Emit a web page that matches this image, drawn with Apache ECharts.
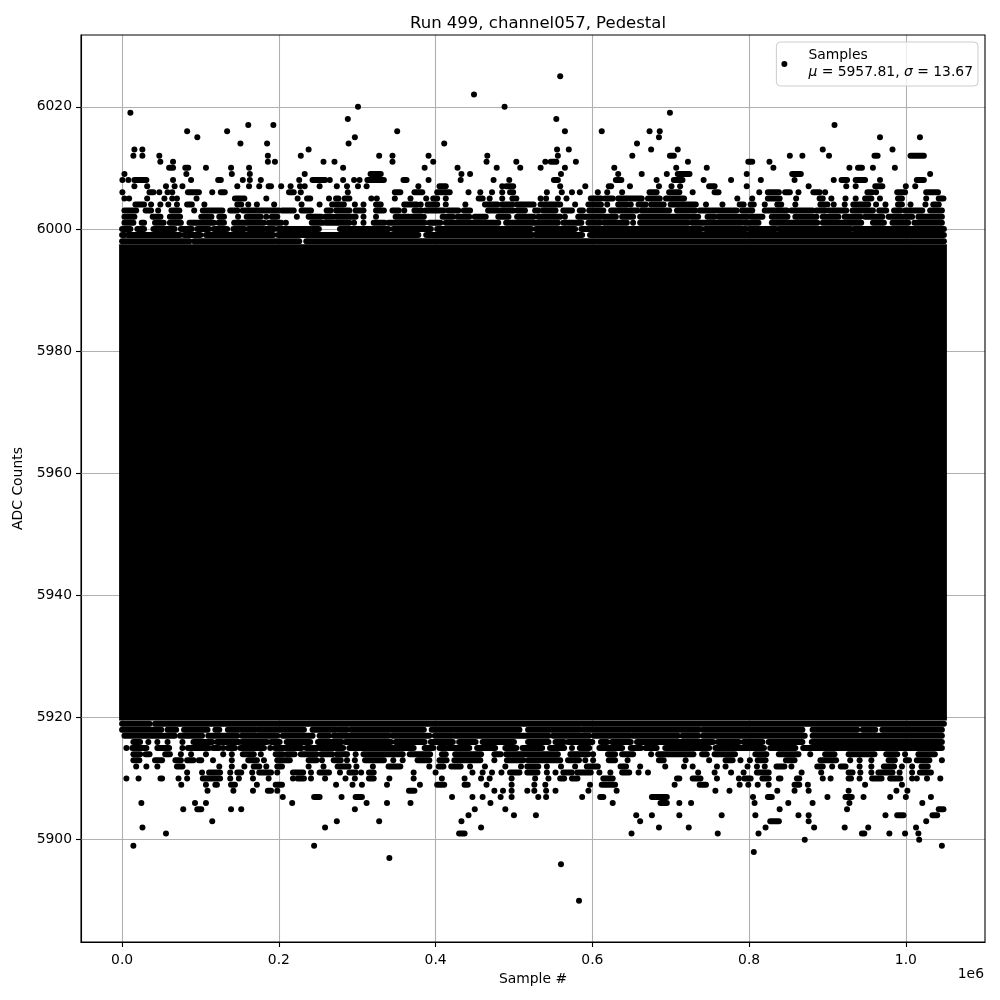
<!DOCTYPE html>
<html>
<head>
<meta charset="utf-8">
<script src="https://cdn.jsdelivr.net/npm/echarts@6/dist/echarts.min.js"></script>
<style>html,body{margin:0;padding:0;background:#fff;}#chart{width:1000px;height:1000px;}</style>
</head>
<body>
<div id="chart"></div>
<script>
// ---- values (x in units of 1e6 samples) ----
const titleText = 'Run 499, channel057, Pedestal';
const xLabel = 'Sample #';
const yLabel = 'ADC Counts';
const seriesName = 'Samples';
const meanValue = 5957.81;
const sigmaValue = 13.67;
const xTicks = [0.0, 0.2, 0.4, 0.6, 0.8, 1.0];
const yTicks = [5900, 5920, 5940, 5960, 5980, 6000, 6020];
const xLimits = [-0.0524288, 1.1010048];
const yLimits = [5883.25, 6031.75];

// fully saturated block of samples: [xStart, xEnd, lowADC, highADC]
const denseBlock = [[0, 1.048576, 5920, 5997]];

// fringe rows: [ADC value, items...]; a number is one sample, a pair is a run of touching samples
const upperRows = [
  [5998, [0,0.086],[0.092,0.226],[0.235,1.048576]],
  [5999, [0,0.003],[0.007,0.074],[0.079,0.100],[0.107,0.193],[0.199,0.378],[0.388,0.523],[0.527,0.587],[0.597,1.048576]],
  [6000, [0,0.0106],[0.0195,0.028],[0.040,0.067],[0.075,0.089],[0.096,0.111],[0.117,0.134],[0.142,0.156],[0.161,0.181],[0.184,0.194],[0.199,0.240],[0.243,0.251],[0.278,0.340],[0.346,0.394],[0.402,0.522],[0.528,0.578],[0.586,0.739],[0.744,0.796],[0.800,0.834],[0.838,0.930],[0.934,1.048576]],
  [6001, [0.003,0.0144],[0.025,0.028],[0.042,0.053],[0.061,0.075],[0.086,0.117],[0.123,0.130],[0.143,0.181],[0.187,0.203],0.209,[0.242,0.256],[0.260,0.290],0.296,0.308,[0.321,0.335],[0.340,0.386],[0.392,0.406],[0.413,0.480],[0.490,0.556],[0.563,0.586],[0.595,0.610],[0.615,0.644],0.652,[0.661,0.722],[0.727,0.790],[0.794,0.812],[0.829,0.887],[0.894,0.943],[0.958,0.972],[0.983,1.003],[1.011,1.046]],
  [6002, [0.003,0.0157],[0.039,0.049],[0.061,0.074],[0.101,0.114],[0.124,0.130],0.148,[0.159,0.177],0.184,[0.191,0.198],0.223,[0.238,0.254],[0.259,0.269],[0.273,0.298],0.308,0.324,[0.349,0.366],[0.369,0.385],[0.409,0.422],[0.428,0.443],[0.450,0.464],[0.480,0.493],[0.504,0.525],[0.531,0.559],0.565,[0.582,0.630],[0.638,0.652],[0.661,0.724],[0.727,0.735],[0.747,0.756],[0.761,0.798],[0.803,0.817],[0.829,0.849],[0.859,0.886],[0.894,0.914],[0.922,0.942],[0.948,0.970],[0.978,1.008],[1.016,1.046]],
  [6003, [0.003,0.018],[0.030,0.037],0.046,[0.063,0.073],0.092,[0.103,0.128],[0.138,0.147],[0.154,0.200],[0.204,0.219],[0.229,0.241],[0.261,0.266],[0.273,0.290],[0.298,0.308],[0.324,0.334],[0.345,0.353],0.360,[0.373,0.382],[0.387,0.410],[0.416,0.429],[0.436,0.444],[0.467,0.499],[0.504,0.514],[0.527,0.531],[0.537,0.553],[0.563,0.574],[0.584,0.588],[0.596,0.614],[0.624,0.657],[0.663,0.698],[0.708,0.731],[0.737,0.784],[0.791,0.804],[0.820,0.848],[0.854,0.881],[0.886,0.897],[0.902,0.924],[0.932,0.958],[0.966,0.975],[0.985,0.993],[0.999,1.021],[1.031,1.046]],
  [6004, [0.017,0.028],0.037,0.0488,0.059,0.070,[0.083,0.089],0.105,[0.147,0.152],0.161,0.172,0.194,0.229,0.252,[0.268,0.283],0.297,0.308,[0.324,0.330],[0.360,0.376],0.381,[0.390,0.402],0.413,0.438,[0.463,0.479],[0.485,0.498],[0.504,0.525],[0.534,0.559],0.578,[0.595,0.611],0.619,[0.633,0.644],0.649,[0.659,0.668],[0.675,0.691],[0.700,0.732],0.745,0.766,[0.788,0.793],[0.802,0.806],0.820,[0.836,0.841],0.859,[0.891,0.900],0.908,0.922,[0.933,0.952],0.962,0.974,[0.990,0.995],1.006,1.025,[1.035,1.042]],
  [6005, 0.003,0.009,0.032,0.054,0.064,0.070,0.095,[0.144,0.156],0.184,0.224,[0.236,0.240],0.264,[0.273,0.276],[0.284,0.290],0.318,0.325,0.348,0.368,0.388,[0.397,0.402],0.413,[0.455,0.460],0.469,0.485,[0.498,0.503],0.534,0.541,0.556,0.567,[0.598,0.611],[0.616,0.626],[0.633,0.663],[0.671,0.686],[0.694,0.717],0.785,0.804,[0.824,0.839],0.860,[0.890,0.894],0.905,0.923,0.936,[0.948,0.956],0.967,[0.990,0.995],1.026,[1.042,1.048]],
  [6006, 0.0004,[0.035,0.040],0.0475,0.058,0.064,[0.084,0.098],0.115,[0.126,0.131],[0.213,0.219],0.228,0.288,[0.348,0.355],[0.373,0.383],[0.402,0.418],0.442,0.457,0.472,0.485,[0.495,0.499],0.542,0.561,0.574,0.584,0.607,0.619,0.638,[0.673,0.682],[0.698,0.711],0.728,[0.756,0.761],0.813,[0.824,0.838],[0.846,0.852],0.863,[0.882,0.890],0.897,[0.951,0.957],0.962,[0.989,0.999],[1.026,1.041]],
  [6007, 0.0157,0.032,0.056,0.067,0.077,0.147,0.162,0.175,[0.187,0.190],0.203,0.215,0.227,0.233,0.252,0.274,0.287,0.301,0.312,0.378,[0.405,0.413],0.485,[0.490,0.499],0.559,0.591,[0.621,0.624],0.648,0.685,0.701,0.712,[0.749,0.756],0.797,0.876,0.924,0.936,[0.961,0.970],1.000,1.012],
  [6008, 0.0004,0.008,[0.0157,0.031],0.065,0.088,[0.1226,0.126],0.154,0.163,0.177,0.226,[0.243,0.259],0.265,0.282,0.296,0.303,[0.313,0.334],[0.359,0.363],0.391,0.432,0.474,0.494,[0.551,0.556],[0.630,0.637],0.682,[0.704,0.715],0.742,0.777,0.815,0.858,0.908,[0.918,0.925],[0.936,0.948],0.967,[1.014,1.023]],
  [6009, 0.003,0.082,0.140,0.163,0.233,[0.317,0.330],0.433,0.444,0.560,0.633,0.663,0.695,[0.709,0.724],0.797,[0.855,0.866],1.031],
  [6010, [0.060,0.065],[0.0806,0.0844],0.107,0.139,0.162,0.282,0.386,0.428,0.478,0.508,0.534,0.565,0.628,0.707,0.746,0.831,0.928,[0.939,0.944],0.958,0.986],
  [6011, 0.0488,0.065,0.186,0.195,0.257,0.271,0.345,0.397,0.465,0.503,0.540,[0.547,0.554],0.579,0.722,[0.799,0.804],0.826],
  [6012, 0.0144,0.0259,0.0475,0.186,0.228,0.328,0.345,0.391,0.466,0.556,0.651,[0.699,0.704],0.852,0.868,0.902,[0.960,0.964],[1.006,1.023]],
  [6013, 0.0157,0.0259,0.238,0.555,0.570,0.675,0.709,0.894,0.983],
  [6014, 0.151,0.185,0.289,0.411,0.657],
  [6015, 0.096,0.297,0.685,0.967,1.018],
  [6016, 0.083,0.134,0.351,0.565,0.612,0.673,0.686],
  [6017, 0.161,0.193,0.909],
  [6018, 0.288,0.554],
  [6019, 0.0106,0.699],
  [6020, 0.301,0.488],
  [6022, 0.449],
  [6025, 0.559]
];

const lowerRows = [
  [5919, [0,0.035],[0.042,1.048576]],
  [5918, [0,0.050],[0.058,0.069],[0.079,0.109],[0.119,0.124],[0.135,0.170],[0.174,0.232],[0.243,0.273],[0.277,0.287],[0.292,0.385],[0.395,0.507],[0.518,0.584],[0.588,0.736],[0.741,0.868],[0.881,0.938],[0.945,0.961],[0.970,1.046]],
  [5917, [0.003,0.067],[0.074,0.102],[0.110,0.147],[0.153,0.198],[0.205,0.243],[0.252,0.264],[0.270,0.340],[0.345,0.392],[0.399,0.421],[0.425,0.544],[0.550,0.596],[0.602,0.648],[0.652,0.709],[0.715,0.735],[0.741,0.871],[0.881,1.046]],
  [5916, [0.0144,0.023],0.0335,0.045,0.058,0.077,[0.091,0.115],[0.121,0.149],[0.153,0.185],[0.190,0.201],[0.210,0.240],[0.250,0.280],[0.285,0.343],[0.349,0.386],[0.394,0.422],[0.430,0.451],[0.460,0.500],[0.518,0.544],[0.553,0.564],[0.569,0.600],[0.611,0.619],[0.625,0.649],[0.657,0.754],[0.760,0.787],[0.793,0.817],[0.825,0.868],[0.880,1.046]],
  [5915, 0.0055,[0.013,0.031],[0.045,0.060],0.077,[0.084,0.111],[0.116,0.124],0.129,[0.135,0.144],[0.151,0.181],0.189,[0.195,0.229],[0.235,0.282],[0.290,0.372],[0.386,0.397],[0.405,0.413],[0.416,0.443],[0.453,0.476],[0.489,0.503],[0.511,0.536],[0.546,0.564],0.574,[0.584,0.596],[0.609,0.638],[0.649,0.662],[0.668,0.682],[0.693,0.749],[0.757,0.819],[0.827,0.859],[0.869,1.046]],
  [5914, [0.0144,0.023],[0.030,0.035],[0.055,0.061],0.075,0.088,0.107,0.129,0.140,[0.154,0.168],0.177,[0.196,0.205],[0.210,0.220],[0.228,0.248],[0.254,0.268],[0.274,0.287],0.298,[0.308,0.358],[0.367,0.393],[0.408,0.413],[0.425,0.458],[0.475,0.483],[0.490,0.556],[0.572,0.595],0.601,[0.620,0.629],[0.638,0.652],0.675,[0.684,0.729],[0.740,0.746],[0.756,0.782],[0.808,0.822],[0.838,0.863],0.878,[0.897,0.909],[0.927,0.960],[0.975,0.989],0.999,[1.016,1.037]],
  [5913, [0.0144,0.022],[0.042,0.051],[0.068,0.075],[0.083,0.091],[0.098,0.101],0.116,0.140,[0.161,0.172],0.181,[0.198,0.214],[0.238,0.248],0.255,[0.270,0.279],0.287,0.297,[0.310,0.334],0.346,0.358,[0.377,0.392],[0.405,0.414],[0.424,0.457],0.475,[0.491,0.512],[0.518,0.559],[0.569,0.583],0.591,0.601,[0.621,0.629],0.645,[0.685,0.691],0.719,0.749,[0.770,0.779],0.789,0.801,[0.811,0.821],[0.847,0.858],[0.891,0.911],0.929,0.941,0.956,[0.978,0.986],[1.000,1.004],[1.014,1.030],1.046],
  [5912, 0.018,0.031,0.045,[0.070,0.077],0.124,0.140,0.156,[0.168,0.175],0.184,[0.198,0.204],0.238,0.257,[0.275,0.289],0.299,0.320,[0.340,0.355],0.392,[0.404,0.410],[0.420,0.432],0.444,0.463,0.489,0.509,[0.517,0.531],0.542,0.560,0.578,[0.593,0.607],[0.636,0.643],0.661,0.693,0.717,0.728,0.759,0.770,0.798,0.810,0.820,[0.835,0.845],0.854,[0.887,0.894],0.906,[0.917,0.923],0.941,0.956,[0.972,0.985],0.995,1.008,[1.020,1.028]],
  [5911, 0.083,0.102,[0.111,0.125],0.138,[0.147,0.152],0.166,[0.175,0.190],0.198,[0.218,0.231],0.241,[0.252,0.264],0.278,[0.290,0.298],0.305,[0.315,0.321],0.372,0.400,0.447,0.460,0.472,0.484,[0.495,0.507],[0.517,0.530],0.542,0.553,[0.563,0.574],[0.581,0.598],0.609,0.623,[0.638,0.647],0.659,0.671,0.735,0.756,0.777,0.793,[0.810,0.825],0.867,0.892,[0.927,0.932],0.942,0.956,[0.965,0.983],0.992,1.008,[1.018,1.032]],
  [5910, 0.0055,0.021,[0.049,0.051],0.072,0.083,[0.103,0.125],0.138,0.149,0.167,0.187,0.218,[0.224,0.232],0.241,0.259,0.285,0.297,[0.315,0.321],0.341,0.372,0.408,0.437,0.458,0.469,0.497,0.527,0.544,[0.559,0.564],[0.574,0.581],[0.614,0.626],[0.708,0.711],[0.728,0.738],0.759,0.787,[0.794,0.802],[0.817,0.825],[0.838,0.840],[0.861,0.864],0.894,0.904,[0.927,0.930],0.941,[0.957,0.969],[0.980,0.993],1.008,1.014,1.027,1.044],
  [5909, 0.0755,0.107,[0.119,0.121],[0.139,0.144],0.172,[0.196,0.204],0.273,0.294,0.306,0.338,0.380,[0.402,0.411],[0.437,0.441],0.465,0.497,0.526,0.540,0.597,[0.612,0.629],0.705,[0.737,0.745],0.788,0.799,0.811,0.825,[0.858,0.864],0.875,0.948,0.995],
  [5908, 0.109,0.142,0.167,[0.186,0.190],0.198,[0.366,0.373],0.475,0.486,0.497,0.517,0.526,0.541,0.553,0.595,0.631,0.757,0.775,0.836,0.858,0.876,0.927,0.988,1.002],
  [5907, 0.205,[0.245,0.252],0.280,[0.298,0.306],0.421,0.447,0.460,0.483,0.497,0.531,0.541,0.587,[0.610,0.614],[0.676,0.695],0.805,[0.824,0.829],0.900,[0.923,0.931],0.946,0.980,1.000,1.032],
  [5906, 0.0246,0.093,0.107,0.217,0.312,0.338,0.368,0.470,0.626,[0.687,0.695],0.711,0.726,0.807,0.850,0.881,0.928,1.021],
  [5905, 0.078,[0.096,0.101],0.139,0.152,0.297,0.450,0.489,0.839,0.925,[1.042,1.048]],
  [5904, 0.442,0.500,0.528,0.656,0.676,0.711,0.765,0.808,0.863,0.876,0.974,[0.989,0.997],[1.034,1.040]],
  [5903, 0.115,0.274,0.328,0.433,0.661,[0.827,0.838],0.876,1.026],
  [5902, 0.026,0.259,0.458,0.685,0.723,0.821,0.883,0.922,0.952,1.013],
  [5901, 0.056,[0.430,0.437],0.650,0.760,0.812,[0.944,0.947],0.979,0.999,1.016],
  [5900, 0.871,1.017],
  [5899, 0.0144,0.245,1.046],
  [5898, 0.806],
  [5897, 0.341],
  [5896, 0.560],
  [5890, 0.583]
];

// ---- build series data from the rows ----
const singleSamples = [];
const sampleRuns = [];
[...upperRows, ...lowerRows].forEach(row => {
  const v = row[0];
  row.slice(1).forEach(item => {
    if (Array.isArray(item)) sampleRuns.push([v, item[0], item[1]]);
    else singleSamples.push([item, v]);
  });
});

const DOT = 6;          // marker diameter (px)
const R = DOT / 2;
const FONT = 'DejaVu Sans';
const FS = 13.9;

const chart = echarts.init(document.getElementById('chart'), null, {renderer: 'canvas'});

const option = {
  animation: false,
  backgroundColor: '#ffffff',
  title: {
    text: titleText,
    left: 533, top: 10, textAlign: 'center',
    textStyle: {fontFamily: FONT, fontSize: 16.5, fontWeight: 'normal', color: '#000'}
  },
  grid: {left: 81, right: 15, top: 35, bottom: 58, show: true, borderColor: '#000', borderWidth: 1.1, backgroundColor: 'transparent', z: 10},
  legend: {
    right: 22, top: 42, z: 20,
    orient: 'vertical',
    padding: [5, 5, 5, 5],
    itemWidth: 28, itemHeight: DOT,
    backgroundColor: 'rgba(255,255,255,0.8)',
    borderColor: '#cccccc', borderWidth: 1, borderRadius: 4,
    data: [{name: seriesName, icon: 'circle', itemStyle: {color: '#000'}}],
    formatter: () => seriesName + '\n{i|μ} = ' + meanValue.toFixed(2) + ', {i|σ} = ' + sigmaValue.toFixed(2),
    textStyle: {
      fontFamily: FONT, fontSize: FS, color: '#000', lineHeight: 17, padding: [0, 0, 0, 5],
      rich: {i: {fontFamily: FONT, fontSize: FS, fontStyle: 'italic', color: '#000', lineHeight: 17}}
    }
  },
  xAxis: {
    type: 'value', min: xLimits[0], max: xLimits[1],
    axisLine: {show: true, onZero: false, lineStyle: {color: '#000', width: 1.1}},
    axisTick: {show: true, customValues: xTicks, length: 5, lineStyle: {color: '#000', width: 1.1}},
    axisLabel: {customValues: xTicks, formatter: v => v.toFixed(1), color: '#000', fontFamily: FONT, fontSize: FS, margin: 11},
    splitLine: {show: false},
    name: xLabel, nameLocation: 'middle', nameGap: 30,
    nameTextStyle: {fontFamily: FONT, fontSize: FS, color: '#000'}
  },
  yAxis: {
    type: 'value', min: yLimits[0], max: yLimits[1],
    axisLine: {show: true, onZero: false, lineStyle: {color: '#000', width: 1.1}},
    axisTick: {show: true, customValues: yTicks, length: 5, lineStyle: {color: '#000', width: 1.1}},
    axisLabel: {customValues: yTicks, formatter: v => String(v), color: '#000', fontFamily: FONT, fontSize: FS, margin: 9},
    splitLine: {show: false},
    name: yLabel, nameLocation: 'middle', nameGap: 50, nameRotate: 90,
    nameTextStyle: {fontFamily: FONT, fontSize: FS, color: '#000'}
  },
  graphic: [{
    type: 'text', right: 16, top: 967,
    style: {text: '1e6', fontFamily: FONT, fontSize: FS, fill: '#000'}
  }],
  series: [
    {
      name: 'gridlines', type: 'scatter', data: [], z: 1, silent: true,
      markLine: {
        z: 1, silent: true, symbol: ['none', 'none'], label: {show: false}, animation: false,
        lineStyle: {color: '#b0b0b0', width: 1.1, type: 'solid'},
        emphasis: {disabled: true},
        data: [...xTicks.map(v => ({xAxis: v})), ...yTicks.map(v => ({yAxis: v}))]
      }
    },
    {
      name: seriesName, type: 'custom', z: 3, silent: true,
      data: denseBlock,
      encode: {x: [0, 1], y: [2, 3]},
      renderItem: (params, api) => {
        const p0 = api.coord([api.value(0), api.value(3)]);
        const p1 = api.coord([api.value(1), api.value(2)]);
        return {type: 'rect', shape: {x: p0[0] - R, y: p0[1] - R, width: p1[0] - p0[0] + 2 * R, height: p1[1] - p0[1] + 2 * R}, style: {fill: '#000'}};
      }
    },
    {
      name: seriesName, type: 'custom', z: 3, silent: true,
      data: sampleRuns,
      encode: {x: [1, 2], y: 0},
      renderItem: (params, api) => {
        const v = api.value(0);
        const p0 = api.coord([api.value(1), v]);
        const p1 = api.coord([api.value(2), v]);
        return {type: 'rect', shape: {x: p0[0] - R, y: p0[1] - R, width: p1[0] - p0[0] + 2 * R, height: 2 * R, r: R}, style: {fill: '#000'}};
      }
    },
    {
      name: seriesName, type: 'scatter', z: 3, silent: true,
      data: singleSamples,
      symbol: 'circle', symbolSize: DOT,
      itemStyle: {color: '#000', opacity: 1}
    }
  ]
};
chart.setOption(option);
</script>
</body>
</html>
